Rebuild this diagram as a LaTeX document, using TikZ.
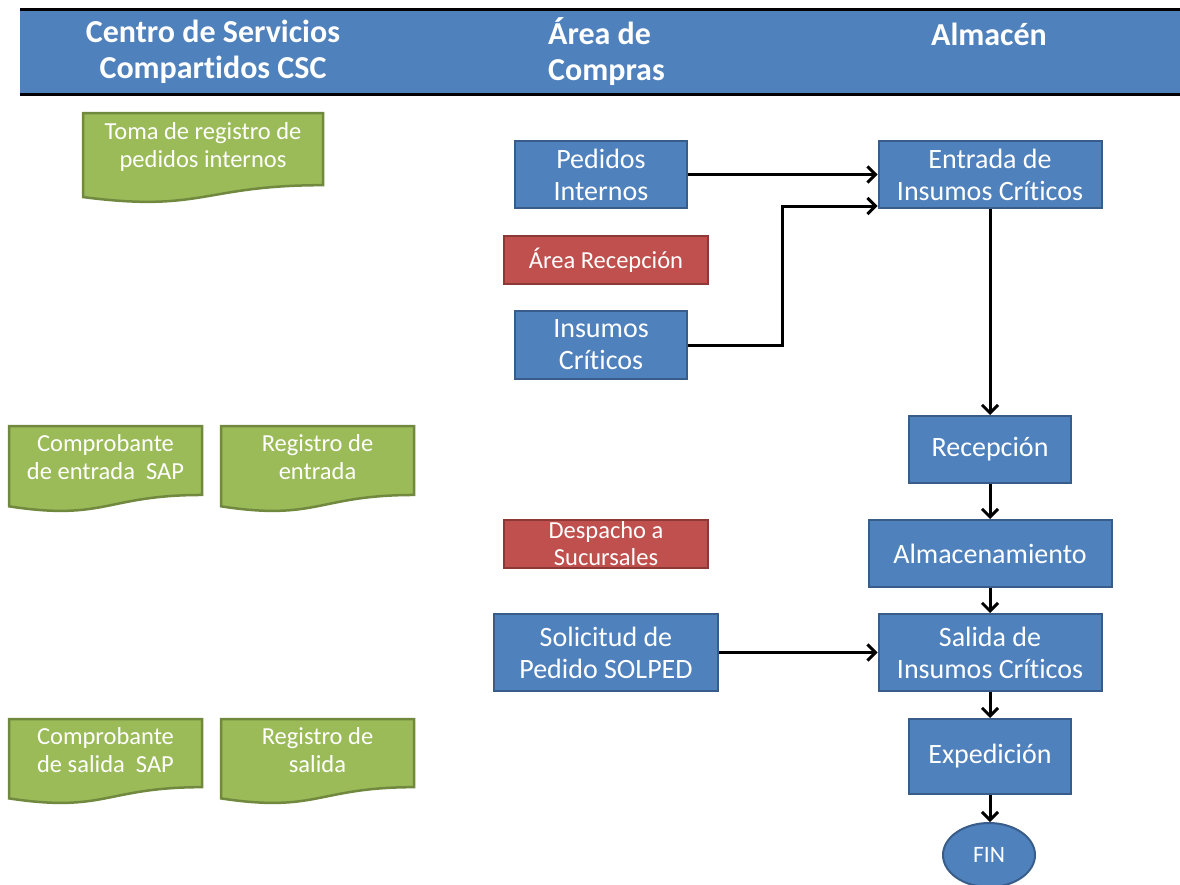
\documentclass[tikz,border=0pt]{standalone}
\usepackage{fontspec}
\setmainfont[Ligatures={NoCommon}]{Carlito}
\usetikzlibrary{arrows.meta,shapes.geometric,calc}
\definecolor{bfill}{HTML}{4F81BD}
\definecolor{bdraw}{HTML}{385D8A}
\definecolor{rfill}{HTML}{C0504D}
\definecolor{rdraw}{HTML}{8C3836}
\definecolor{gfill}{HTML}{9BBB59}
\definecolor{gdraw}{HTML}{71893F}
\newcommand{\docshape}[4]{% x1, y1, x2, h
  \filldraw[docline] (#1,#2) -- (#3,#2) -- (#3,{#2+0.802*#4})
    .. controls ({(#1+#3)/2},{#2+0.802*#4}) and ({(#1+#3)/2},{#2+1.107*#4}) ..
    (#1,{#2+0.934*#4}) -- cycle;}
\begin{document}
\begin{tikzpicture}[x=1pt,y=-1pt,
  bluebox/.style={draw=bdraw,fill=bfill,line width=2pt,text=white,align=center,inner sep=0pt,
    font=\fontsize{28}{32}\selectfont},
  redbox/.style={draw=rdraw,fill=rfill,line width=2pt,text=white,align=center,inner sep=0pt,
    font=\fontsize{24.5}{27}\selectfont},
  docline/.style={draw=gdraw,fill=gfill,line width=2.5pt},
  doctext/.style={text=white,align=center,inner sep=0pt,font=\fontsize{24.5}{28}\selectfont},
  headtext/.style={text=white,inner sep=0pt,font=\fontsize{32}{36}\selectfont\bfseries},
  flow/.style={line width=3pt,-{Straight Barb[length=8pt,width=16pt,line width=3pt]}}
]
\useasboundingbox (0,0) rectangle (1180,884);
% header band
\fill[bfill] (20,10) rectangle (1180,93);
\draw[line width=3pt] (20,9) -- (1180,9);
\draw[line width=3pt] (20,94) -- (1180,94);
\node[headtext,align=center] (hcsc) at (213,52) {Centro de Servicios\\Compartidos CSC};
\node[headtext,align=left,anchor=west] (hcomp) at (548,52) {Área de\\Compras};
\node[headtext] (halm) at (989,34) {Almacén};
% green documents
\docshape{83}{113}{323}{90}
\node[doctext] (toma) at (203,147) {Toma de registro de\\pedidos internos};
\docshape{9}{426}{202}{86}
\node[doctext] (compent) at (105.5,457) {Comprobante\\de entrada~~SAP};
\docshape{221}{426}{414}{86}
\node[doctext] (regent) at (317.5,457) {Registro de\\entrada};
\docshape{9}{719}{202}{85}
\node[doctext] (compsal) at (105.5,750) {Comprobante\\de salida~~SAP};
\docshape{221}{719}{414}{85}
\node[doctext] (regsal) at (317.5,750) {Registro de\\salida};
% blue / red boxes
\node[bluebox,minimum width=172pt,minimum height=67pt] (ped) at (601,174.5) {Pedidos\\Internos};
\node[redbox,minimum width=204pt,minimum height=48pt] (arearec) at (606,260) {Área Recepción};
\node[bluebox,minimum width=172pt,minimum height=68pt] (ins) at (601,345) {Insumos\\Críticos};
\node[bluebox,minimum width=223pt,minimum height=67pt] (ent) at (990,174.5) {Entrada de\\Insumos Críticos};
\node[bluebox,minimum width=162pt,minimum height=67pt] (rec) at (990,449.5) {Recepción};
\node[redbox,minimum width=204pt,minimum height=48pt] (desp) at (606,544) {Despacho a\\Sucursales};
\node[bluebox,minimum width=243pt,minimum height=67pt] (alm) at (990,553.5) {Almacenamiento};
\node[bluebox,minimum width=224pt,minimum height=77pt] (sol) at (606,652.5) {Solicitud de\\Pedido SOLPED};
\node[bluebox,minimum width=223pt,minimum height=77pt] (sal) at (990,652.5) {Salida de\\Insumos Críticos};
\node[bluebox,minimum width=162pt,minimum height=75pt] (exp) at (990,756.5) {Expedición};
\node[bluebox,ellipse,minimum width=92pt,minimum height=64pt,font=\fontsize{23.5}{26}\selectfont] (fin) at (989,855) {FIN};
% connectors
\coordinate (bend) at (782,206);
\draw[flow] (ped.east) -- (ent.west);
\draw[flow] (ins.east) -| (bend) -- (bend -| ent.west);
\draw[flow] (ent.south) -- (rec.north);
\draw[flow] (rec.south) -- (alm.north);
\draw[flow] (alm.south) -- (sal.north);
\draw[flow] (sol.east) -- (sal.west);
\draw[flow] (sal.south) -- (exp.north);
\draw[flow] (exp.south) -- (exp.south |- fin.north);
\end{tikzpicture}
\end{document}
